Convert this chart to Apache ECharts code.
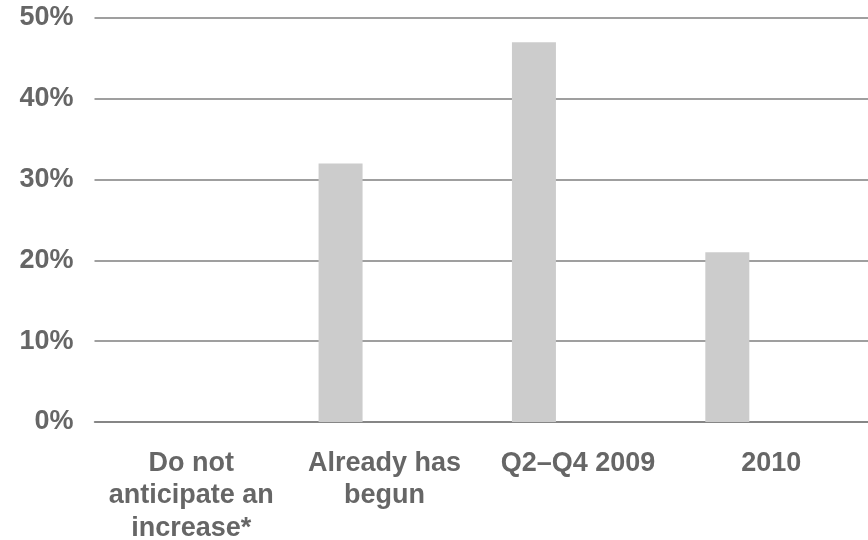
<!DOCTYPE html>
<html>
<head>
<meta charset="utf-8">
<script src="https://cdn.jsdelivr.net/npm/echarts@6/dist/echarts.min.js"></script>
<style>
  html, body { margin: 0; padding: 0; background: #ffffff; }
  #chart { width: 868px; height: 540px; }
</style>
</head>
<body>
<div id="chart"></div>
<script>
// When the increase in spending is expected to start (share of respondents)
const categories = ['Do not\nanticipate an\nincrease*', 'Already has\nbegun', 'Q2–Q4 2009', '2010'];
const shareValues = [0, 32, 47, 21];
// Two empty companion series keep the original clustered-bar layout
const emptyA = [null, null, null, null];
const emptyB = [null, null, null, null];
const yTicks = { min: 0, max: 50, interval: 10 };

const textColor = '#666666';
const lineColor = '#7f7f7f';
const fontFamily = '"Liberation Sans", Arial, sans-serif';

const chart = echarts.init(document.getElementById('chart'), null, { renderer: 'canvas' });
chart.setOption({
  animation: false,
  backgroundColor: '#ffffff',
  grid: {
    left: 94.5, right: 0, top: 18, bottom: 118,
    containLabel: false,
    outerBoundsMode: 'none'
  },
  xAxis: {
    type: 'category',
    data: categories,
    axisLine: { show: true, lineStyle: { color: lineColor, width: 1.5 } },
    axisTick: { show: false },
    axisLabel: {
      interval: 0,
      margin: 25,
      color: textColor,
      fontFamily: fontFamily,
      fontWeight: 'bold',
      fontSize: 27,
      lineHeight: 32.5,
      align: 'center'
    }
  },
  yAxis: {
    type: 'value',
    min: yTicks.min,
    max: yTicks.max,
    interval: yTicks.interval,
    axisLine: { show: false },
    axisTick: { show: false },
    splitLine: { show: true, lineStyle: { color: lineColor, width: 1.5 } },
    axisLabel: {
      margin: 21,
      color: textColor,
      fontFamily: fontFamily,
      fontWeight: 'bold',
      fontSize: 27,
      formatter: '{value}%'
    }
  },
  series: [
    {
      name: 'Share',
      type: 'bar',
      data: shareValues,
      barWidth: 44,
      barGap: '0%',
      itemStyle: { color: '#cccccc' }
    },
    { name: 'A', type: 'bar', data: emptyA, barWidth: 44, barGap: '0%', itemStyle: { color: '#cccccc' } },
    { name: 'B', type: 'bar', data: emptyB, barWidth: 44, barGap: '0%', itemStyle: { color: '#cccccc' } }
  ]
});
</script>
</body>
</html>
